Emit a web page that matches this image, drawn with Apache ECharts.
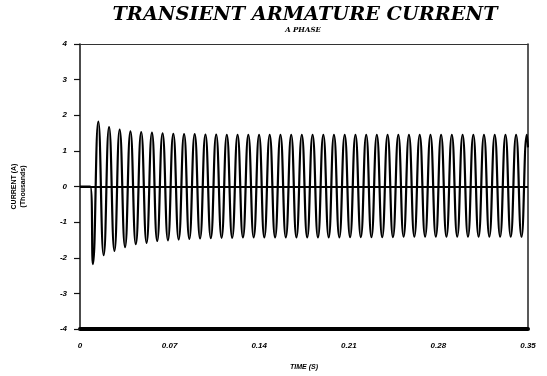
<!DOCTYPE html>
<html>
<head>
<meta charset="utf-8">
<script src="https://cdn.jsdelivr.net/npm/echarts@6/dist/echarts.min.js"></script>
<style>html,body{margin:0;padding:0;background:#fff;}#c{width:547px;height:376px;}</style>
</head>
<body>
<div id="c"></div>
<script>
// ---- data ----
const xTickLabels = ['0', '0.07', '0.14', '0.21', '0.28', '0.35'];
const yTickLabels = ['-4', '-3', '-2', '-1', '0', '1', '2', '3', '4'];
const leadTimes = [0, 0.0080];
const leadValues = [0, 0];
const troughTimes = [0.0101, 0.0185, 0.0269, 0.0352, 0.0436, 0.0520, 0.0603, 0.0687, 0.0771, 0.0854,
  0.0938, 0.1022, 0.1106, 0.1189, 0.1273, 0.1357, 0.1440, 0.1524, 0.1608, 0.1691,
  0.1775, 0.1859, 0.1943, 0.2026, 0.2110, 0.2194, 0.2277, 0.2361, 0.2445, 0.2528,
  0.2612, 0.2696, 0.2780, 0.2863, 0.2947, 0.3031, 0.3114, 0.3198, 0.3282, 0.3365, 0.3449];
const troughValues = [-2.18, -1.93, -1.81, -1.70, -1.62, -1.58, -1.53, -1.51, -1.49, -1.47,
  -1.46, -1.45, -1.44, -1.44, -1.43, -1.43, -1.43, -1.43, -1.43, -1.43,
  -1.43, -1.43, -1.43, -1.43, -1.42, -1.42, -1.42, -1.42, -1.42, -1.41,
  -1.41, -1.41, -1.41, -1.41, -1.41, -1.41, -1.41, -1.41, -1.41, -1.41, -1.41];
const peakTimes = [0.0143, 0.0227, 0.0310, 0.0394, 0.0478, 0.0562, 0.0645, 0.0729, 0.0813, 0.0896,
  0.0980, 0.1064, 0.1147, 0.1231, 0.1315, 0.1399, 0.1482, 0.1566, 0.1650, 0.1733,
  0.1817, 0.1901, 0.1984, 0.2068, 0.2152, 0.2236, 0.2319, 0.2403, 0.2487, 0.2570,
  0.2654, 0.2738, 0.2821, 0.2905, 0.2989, 0.3073, 0.3156, 0.3240, 0.3324, 0.3407, 0.3491];
const peakValues = [1.82, 1.67, 1.60, 1.55, 1.53, 1.51, 1.49, 1.48, 1.47, 1.47,
  1.46, 1.46, 1.45, 1.45, 1.45, 1.45, 1.45, 1.45, 1.45, 1.45,
  1.45, 1.45, 1.45, 1.45, 1.45, 1.45, 1.45, 1.45, 1.45, 1.45,
  1.45, 1.45, 1.45, 1.45, 1.45, 1.45, 1.45, 1.45, 1.45, 1.45, 1.45];
const tailTimes = [0.35];
const tailValues = [1.10];

// ---- build series from arrays ----
const points = [];
leadTimes.forEach((t, i) => points.push([t, leadValues[i]]));
troughTimes.forEach((t, i) => {
  points.push([t, troughValues[i]]);
  points.push([peakTimes[i], peakValues[i]]);
});
tailTimes.forEach((t, i) => points.push([t, tailValues[i]]));

const tickFont = { fontFamily: 'Liberation Sans', fontWeight: 'bold', fontStyle: 'italic', fontSize: 8, color: '#000' };

const chart = echarts.init(document.getElementById('c'), null, { renderer: 'canvas' });
chart.setOption({
  animation: false,
  backgroundColor: '#fff',
  grid: { left: 80, right: 19, top: 44, bottom: 43, containLabel: false },
  graphic: [
    { type: 'text', style: { text: 'TRANSIENT ARMATURE CURRENT', x: 305, y: 15, align: 'center', verticalAlign: 'middle', font: 'italic bold 19.3px "DejaVu Serif"', fill: '#000' } },
    { type: 'text', style: { text: 'A PHASE', x: 303, y: 30, align: 'center', verticalAlign: 'middle', font: 'italic bold 7px "DejaVu Serif"', fill: '#000' } }
  ],
  xAxis: [
    {
      type: 'value', min: 0, max: 0.35, interval: 0.07, position: 'bottom',
      axisLine: { show: true, onZero: false, lineStyle: { color: '#000', width: 4 } },
      axisTick: { show: false },
      splitLine: { show: false },
      axisLabel: Object.assign({ margin: 13, formatter: (v, i) => xTickLabels[i] }, tickFont),
      name: 'TIME (S)', nameLocation: 'middle', nameGap: 35,
      nameTextStyle: { fontFamily: 'Liberation Sans', fontWeight: 'bold', fontStyle: 'italic', fontSize: 7, color: '#000' }
    },
    {
      type: 'value', min: 0, max: 0.35, position: 'top',
      axisLine: { show: true, onZero: false, lineStyle: { color: '#333', width: 1 } },
      axisTick: { show: false }, axisLabel: { show: false }, splitLine: { show: false }
    }
  ],
  yAxis: [
    {
      type: 'value', min: -4, max: 4, interval: 1, position: 'left',
      axisLine: { show: true, onZero: false, lineStyle: { color: '#111', width: 1.5 } },
      axisTick: { show: true, inside: false, length: 6, lineStyle: { color: '#111', width: 1.2 } },
      splitLine: { show: false },
      axisLabel: Object.assign({ margin: 13, formatter: (v, i) => yTickLabels[i] }, tickFont),
      name: 'CURRENT (A)\n(Thousands)', nameLocation: 'middle', nameRotate: 90, nameGap: 52,
      nameTextStyle: { fontFamily: 'Liberation Sans', fontWeight: 'bold', fontSize: 7, lineHeight: 9, color: '#000' }
    },
    {
      type: 'value', min: -4, max: 4, position: 'right',
      axisLine: { show: true, onZero: false, lineStyle: { color: '#222', width: 1.5 } },
      axisTick: { show: false }, axisLabel: { show: false }, splitLine: { show: false }
    }
  ],
  series: [
    {
      type: 'line', xAxisIndex: 0, yAxisIndex: 0,
      data: points, showSymbol: false, smooth: 0.5,
      lineStyle: { color: '#000', width: 2.2 },
      markLine: {
        silent: true, symbol: ['none', 'none'], label: { show: false },
        lineStyle: { color: '#000', width: 2, type: 'solid' },
        data: [{ yAxis: 0 }]
      }
    }
  ]
});
</script>
</body>
</html>
